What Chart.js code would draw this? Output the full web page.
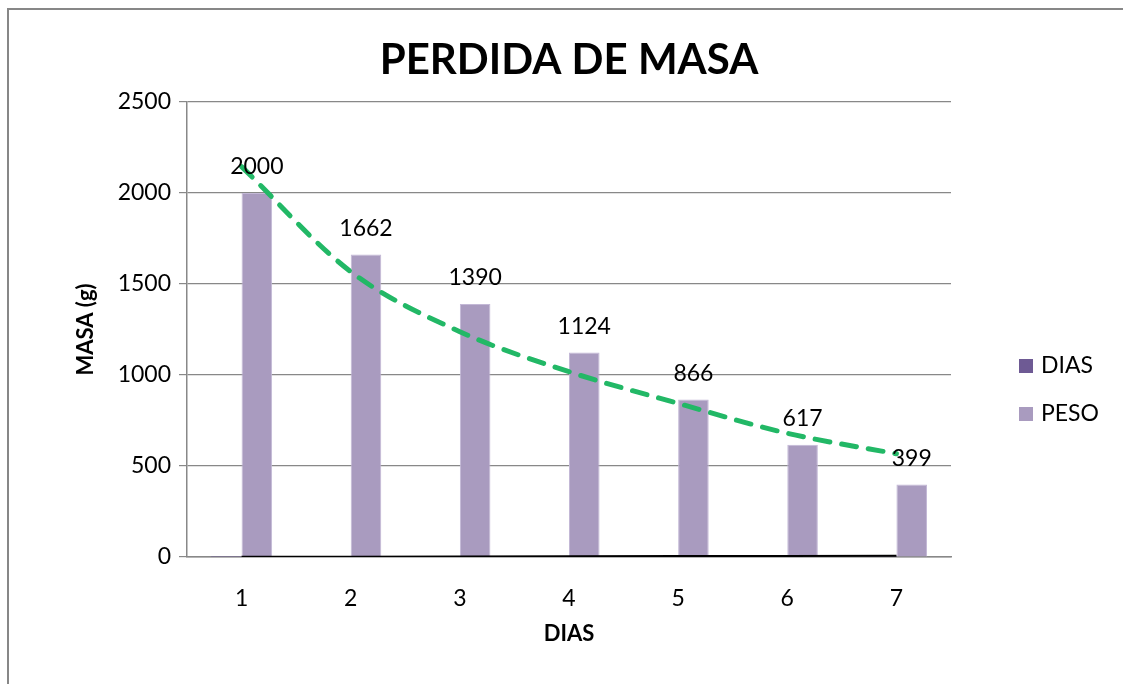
<!DOCTYPE html>
<html>
<head>
<meta charset="utf-8">
<script src="https://cdn.jsdelivr.net/npm/chart.js@4.4.1/dist/chart.umd.min.js"></script>
<style>
  html, body { margin: 0; padding: 0; background: #ffffff; }
  #wrap { width: 1123px; height: 684px; position: relative; }
  canvas { display: block; }
</style>
</head>
<body>
<div id="wrap"><canvas id="c" width="1123" height="684"></canvas></div>
<script>
// ---- data ----
const chartTitle = 'PERDIDA DE MASA';
const xTitle = 'DIAS';
const yTitle = 'MASA (g)';
const categories = ['1', '2', '3', '4', '5', '6', '7'];
const dias = [1, 2, 3, 4, 5, 6, 7];
const peso = [2000, 1662, 1390, 1124, 866, 617, 399];
const pesoTrend = [2145, 1568, 1238, 1018, 844, 680, 567];
const yTicks = [0, 500, 1000, 1500, 2000, 2500];

const FONT = 'Lato, "Open Sans", sans-serif';

const framePlugin = {
  id: 'frame',
  beforeDraw(chart) {
    const ctx = chart.ctx;
    ctx.save();
    ctx.fillStyle = '#ffffff';
    ctx.fillRect(0, 0, chart.width, chart.height);
    ctx.strokeStyle = '#878787';
    ctx.lineWidth = 2;
    ctx.beginPath();
    ctx.moveTo(8, chart.height);
    ctx.lineTo(8, 9);
    ctx.lineTo(chart.width, 9);
    ctx.stroke();
    ctx.restore();
  }
};

const titlePlugin = {
  id: 'bigTitle',
  afterDraw(chart) {
    const ctx = chart.ctx;
    ctx.save();
    ctx.fillStyle = '#000000';
    ctx.font = 'bold 42px ' + FONT;
    ctx.textAlign = 'center';
    ctx.textBaseline = 'middle';
    ctx.fillText(chartTitle, 569, 60);
    ctx.restore();
  }
};

const labelPlugin = {
  id: 'barLabels',
  afterDatasetsDraw(chart) {
    const ctx = chart.ctx;
    const idx = chart.data.datasets.findIndex(d => d.label === 'PESO');
    const meta = chart.getDatasetMeta(idx);
    ctx.save();
    ctx.fillStyle = '#000000';
    ctx.font = '23px ' + FONT;
    ctx.textAlign = 'center';
    ctx.textBaseline = 'middle';
    meta.data.forEach((el, i) => {
      ctx.fillText(String(chart.data.datasets[idx].data[i]), el.x, el.y - 26);
    });
    ctx.restore();
  }
};

const legendPlugin = {
  id: 'sideLegend',
  afterDraw(chart) {
    const ctx = chart.ctx;
    const items = chart.data.datasets.filter(d => d.type === 'bar');
    ctx.save();
    ctx.font = '23px ' + FONT;
    ctx.textBaseline = 'middle';
    ctx.textAlign = 'left';
    items.forEach((d, i) => {
      const cy = 366 + i * 48;
      ctx.fillStyle = d.backgroundColor;
      ctx.fillRect(1019, cy - 7, 14, 14);
      ctx.fillStyle = '#000000';
      ctx.fillText(d.label, 1041, cy);
    });
    ctx.restore();
  }
};

new Chart(document.getElementById('c'), {
  data: {
    labels: categories,
    datasets: [
      {
        type: 'bar', label: 'DIAS', data: dias,
        backgroundColor: '#6E5A94', borderWidth: 0,
        categoryPercentage: 0.56, barPercentage: 1.0, order: 2
      },
      {
        type: 'bar', label: 'PESO', data: peso,
        backgroundColor: '#A99BBF', borderColor: '#C3B8D6', borderWidth: 1,
        categoryPercentage: 0.56, barPercentage: 1.0, order: 2
      },
      {
        type: 'line', label: 'Tendencia DIAS', data: dias,
        borderColor: '#000000', borderWidth: 2, pointRadius: 0,
        fill: false, order: 1
      },
      {
        type: 'line', label: 'Tendencia PESO', data: pesoTrend,
        borderColor: '#22B866', borderWidth: 5, borderDash: [15, 12],
        borderCapStyle: 'round', pointRadius: 0, fill: false,
        cubicInterpolationMode: 'monotone', order: 0
      }
    ]
  },
  options: {
    responsive: false,
    animation: false,
    devicePixelRatio: 1,
    layout: { padding: { top: 102, right: 172, bottom: 0, left: 0 } },
    plugins: {
      legend: { display: false },
      title: { display: false },
      tooltip: { enabled: false }
    },
    scales: {
      x: {
        grid: { display: false },
        border: { display: true, color: '#888888', width: 1.5 },
        ticks: { color: '#000000', font: { family: FONT, size: 23 }, padding: 20 },
        title: {
          display: true, text: xTitle, color: '#000000',
          font: { family: FONT, size: 22, weight: 'bold' },
          padding: { top: 0, bottom: 37 }
        },
        afterFit(scale) { scale.height = 127; }
      },
      y: {
        min: 0, max: 2500,
        afterBuildTicks(scale) { scale.ticks = yTicks.map(v => ({ value: v })); },
        grid: { color: '#888888', lineWidth: 1.2, tickLength: 8, drawTicks: true },
        border: { display: true, color: '#888888', width: 1.5 },
        ticks: {
          color: '#000000', font: { family: FONT, size: 23 }, padding: 8,
          callback: (v) => String(v)
        },
        title: {
          display: true, text: yTitle, color: '#000000',
          font: { family: FONT, size: 22, weight: 'bold' },
          padding: { top: 73, bottom: 0 }
        },
        afterFit(scale) { scale.width = 187; }
      }
    }
  },
  plugins: [framePlugin, labelPlugin, titlePlugin, legendPlugin]
});
</script>
</body>
</html>
